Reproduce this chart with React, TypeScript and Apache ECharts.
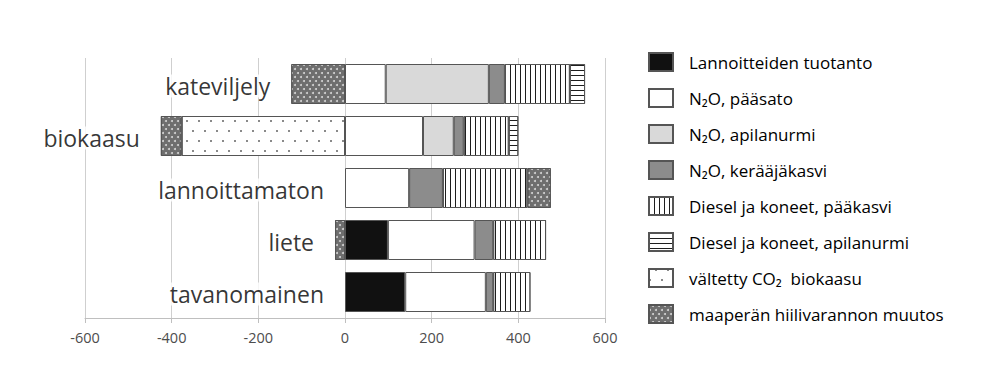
import React, { useEffect, useRef } from "react";
import * as echarts from "echarts";

// Categories, top to bottom
const categories = ["kateviljely", "biokaasu", "lannoittamaton", "liete", "tavanomainen"];

// Series values (same order as categories)
const lannoitteet = [0, 0, 0, 99, 139];
const n2oPaasato = [94, 180, 148, 200, 186];
const n2oApilanurmi = [238, 71, 0, 0, 0];
const n2oKeraajakasvi = [37, 23, 78, 43, 17];
const dieselPaakasvi = [150, 104, 195, 122, 86];
const dieselApilanurmi = [35, 22, 0, 0, 0];
const valtettyCO2 = [0, -377, 0, 0, 0];
const maaperaHiili = [-124, -48, 54, -23, 0];

const seriesNames = [
  "Lannoitteiden tuotanto",
  "N₂O, pääsato",
  "N₂O, apilanurmi",
  "N₂O, kerääjäkasvi",
  "Diesel ja koneet, pääkasvi",
  "Diesel ja koneet, apilanurmi",
  "vältetty CO₂  biokaasu",
  "maaperän hiilivarannon muutos",
];
const seriesValues = [
  lannoitteet,
  n2oPaasato,
  n2oApilanurmi,
  n2oKeraajakasvi,
  dieselPaakasvi,
  dieselApilanurmi,
  valtettyCO2,
  maaperaHiili,
];

// Axis ticks
const xMin = -600;
const xMax = 600;
const xStep = 200;

const FONT = "'Open Sans', 'Liberation Sans', sans-serif";

const styles: any[] = [
  { color: "#111111" },
  { color: "#ffffff" },
  { color: "#d9d9d9" },
  { color: "#8c8c8c" },
  {
    color: "#ffffff",
    decal: { symbol: "rect", symbolSize: 1, color: "#1e1e1e", dashArrayX: [1, 4], dashArrayY: [5, 0] },
  },
  {
    color: "#ffffff",
    decal: { symbol: "rect", symbolSize: 1, color: "#1e1e1e", dashArrayX: [5, 0], dashArrayY: [1, 4] },
  },
  {
    color: "#ffffff",
    decal: {
      symbol: "rect",
      symbolSize: 1,
      color: "#8a8a8a",
      dashArrayX: [[2, 10], [0, 6, 2, 4]],
      dashArrayY: [2, 8],
    },
  },
  {
    color: "#6e6e6e",
    decal: {
      symbol: "circle",
      symbolSize: 1,
      color: "rgba(255,255,255,0.7)",
      dashArrayX: [[2, 4], [0, 3, 2, 1]],
      dashArrayY: [2, 2],
    },
  },
];

export default function App() {
  const ref = useRef<HTMLDivElement>(null);

  useEffect(() => {
    if (!ref.current) return;
    const chart = echarts.init(ref.current, undefined, { renderer: "svg" });

    const leftEdges = categories.map((_, i) =>
      seriesValues.reduce((acc, arr) => acc + (arr[i] < 0 ? arr[i] : 0), 0)
    );

    const barSeries = seriesNames.map((name, k) => ({
      name,
      type: "bar",
      stack: "total",
      barWidth: 40,
      data: seriesValues[k].map((v) => (v === 0 ? null : v)),
      itemStyle: {
        ...styles[k],
        borderColor: "#555555",
        borderWidth: 1,
      },
      silent: true,
    }));

    const labelSeries = {
      name: "labels",
      type: "scatter",
      symbolSize: 0,
      silent: true,
      z: 10,
      data: categories.map((c, i) => [leftEdges[i], c]),
      label: {
        show: true,
        position: "left",
        distance: 17,
        formatter: (p: any) => p.data[1],
        fontFamily: FONT,
        fontSize: 23,
        color: "#000000",
        backgroundColor: "#ffffff",
        padding: [0, 4, 0, 4],
        offset: [0, 2],
      },
    };

    chart.setOption({
      animation: false,
      backgroundColor: "#ffffff",
      grid: { left: 85, right: 380, top: 58, height: 260, containLabel: false },
      legend: {
        data: seriesNames,
        orient: "vertical",
        left: 648,
        top: 52,
        padding: 0,
        itemWidth: 24,
        itemHeight: 18,
        itemGap: 16,
        icon: "rect",
        textStyle: {
          fontFamily: FONT,
          fontSize: 17,
          lineHeight: 18,
          color: "#000000",
          padding: [0, 0, 0, 11],
        },
      },
      xAxis: {
        type: "value",
        min: xMin,
        max: xMax,
        interval: xStep,
        axisLine: { show: true, lineStyle: { color: "#bfbfbf", width: 1 } },
        axisTick: { show: true, length: 5, lineStyle: { color: "#bfbfbf" } },
        splitLine: { show: true, lineStyle: { color: "#cfcfcf", width: 1 } },
        axisLabel: { color: "#4d4d4d", fontFamily: FONT, fontSize: 14.5, margin: 12 },
      },
      yAxis: {
        type: "category",
        inverse: true,
        data: categories,
        axisLine: { show: false },
        axisTick: { show: false },
        axisLabel: { show: false },
        splitLine: { show: false },
      },
      series: [...barSeries, labelSeries],
    });

    return () => chart.dispose();
  }, []);

  return (
    <div
      ref={ref}
      style={{ position: "absolute", left: 0, top: 0, width: 985, height: 373, background: "#fff" }}
    />
  );
}
